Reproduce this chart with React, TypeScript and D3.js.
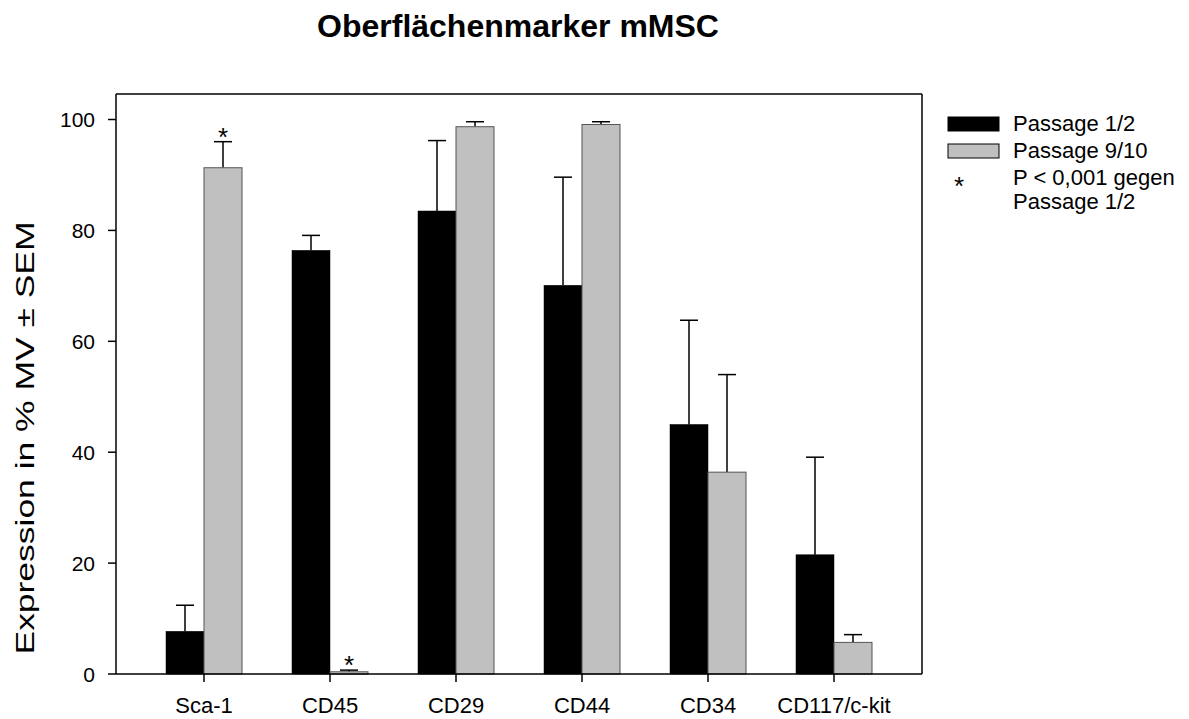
import React from "react";
import * as d3 from "d3";

const categories = ["Sca-1", "CD45", "CD29", "CD44", "CD34", "CD117/c-kit"];
const seriesNames = ["Passage 1/2", "Passage 9/10"];
const passage12 = [7.7, 76.4, 83.5, 70.1, 45.0, 21.5];
const passage12Err = [4.7, 2.7, 12.7, 19.5, 18.8, 17.6];
const passage910 = [91.3, 0.4, 98.7, 99.1, 36.4, 5.7];
const passage910Err = [4.7, 0.3, 0.9, 0.5, 17.6, 1.4];
const significant910 = [true, true, false, false, false, false];
const yTicks = [0, 20, 40, 60, 80, 100];

const W = 1189;
const H = 719;
const left = 116;
const right = 922;
const top = 94;
const bottom = 674;
const font = "Arial, 'Liberation Sans', Helvetica, sans-serif";
const colors = ["#000000", "#c0c0c0"];

export default function App() {
  const y = d3.scaleLinear().domain([0, 104.6]).range([bottom, top]);
  const x = d3
    .scaleBand<string>()
    .domain(categories)
    .range([left, right])
    .paddingInner(50 / 126)
    .paddingOuter(50 / 126);
  const xs = d3.scaleBand<string>().domain(seriesNames).range([0, x.bandwidth()]);
  const series = [
    { name: seriesNames[0], vals: passage12, errs: passage12Err, sig: categories.map(() => false) },
    { name: seriesNames[1], vals: passage910, errs: passage910Err, sig: significant910 },
  ];
  const capW = 18;

  return (
    <svg
      width={W}
      height={H}
      style={{ position: "absolute", left: 0, top: 0, background: "#fff" }}
      fontFamily={font}
    >
      <rect x={0} y={0} width={W} height={H} fill="#fff" />
      <text x={518} y={37} textAnchor="middle" fontSize={32} fontWeight="bold">
        Oberflächenmarker mMSC
      </text>

      {/* bars */}
      {series.map((s, si) =>
        categories.map((c, i) => {
          const bx = (x(c) as number) + (xs(s.name) as number);
          const bw = xs.bandwidth();
          const yv = y(s.vals[i]);
          const ye = y(s.vals[i] + s.errs[i]);
          const cx = bx + bw / 2;
          return (
            <g key={s.name + c}>
              <line x1={cx} x2={cx} y1={yv} y2={ye} stroke="#000" strokeWidth={1.5} />
              <line x1={cx - capW / 2} x2={cx + capW / 2} y1={ye} y2={ye} stroke="#000" strokeWidth={1.5} />
              <rect
                x={bx}
                y={yv}
                width={bw}
                height={bottom - yv}
                fill={colors[si]}
                stroke={si === 0 ? "#000" : "#555"}
                strokeWidth={si === 0 ? 0.5 : 1}
              />
              {s.sig[i] && (
                <text x={cx} y={ye + 4} textAnchor="middle" fontSize={26}>
                  *
                </text>
              )}
            </g>
          );
        })
      )}

      {/* frame */}
      <line x1={left} x2={right} y1={top} y2={top} stroke="#000" strokeWidth={1.5} />
      <line x1={right} x2={right} y1={top} y2={bottom} stroke="#000" strokeWidth={1.5} />
      <line x1={left} x2={left} y1={top} y2={bottom} stroke="#000" strokeWidth={1.5} />
      <line x1={left} x2={right} y1={bottom} y2={bottom} stroke="#000" strokeWidth={1.5} />

      {/* y ticks */}
      {yTicks.map((t) => (
        <g key={t}>
          <line x1={left - 8} x2={left} y1={y(t)} y2={y(t)} stroke="#000" strokeWidth={1.5} />
          <text x={left - 21} y={y(t)} dy="0.36em" textAnchor="end" fontSize={21}>
            {t}
          </text>
        </g>
      ))}

      {/* x ticks */}
      {categories.map((c) => {
        const cx = (x(c) as number) + x.bandwidth() / 2;
        return (
          <g key={c}>
            <line x1={cx} x2={cx} y1={bottom} y2={bottom + 8} stroke="#000" strokeWidth={1.5} />
            <text x={cx} y={713} textAnchor="middle" fontSize={22}>
              {c}
            </text>
          </g>
        );
      })}

      <text
        transform={`translate(33.5, 438) rotate(-90)`}
        textAnchor="middle"
        fontSize={26}
        textLength={433}
        lengthAdjust="spacingAndGlyphs"
      >
        Expression in % MV ± SEM
      </text>

      {/* legend */}
      <g fontSize={22}>
        <rect x={948} y={117} width={51} height={14} fill={colors[0]} stroke="#000" />
        <text x={1013} y={131}>{seriesNames[0]}</text>
        <rect x={948} y={144} width={51} height={14} fill={colors[1]} stroke="#000" />
        <text x={1013} y={158}>{seriesNames[1]}</text>
        <text x={959} y={195} textAnchor="middle" fontSize={26}>*</text>
        <text x={1013} y={185}>P &lt; 0,001 gegen</text>
        <text x={1013} y={209}>Passage 1/2</text>
      </g>
    </svg>
  );
}
